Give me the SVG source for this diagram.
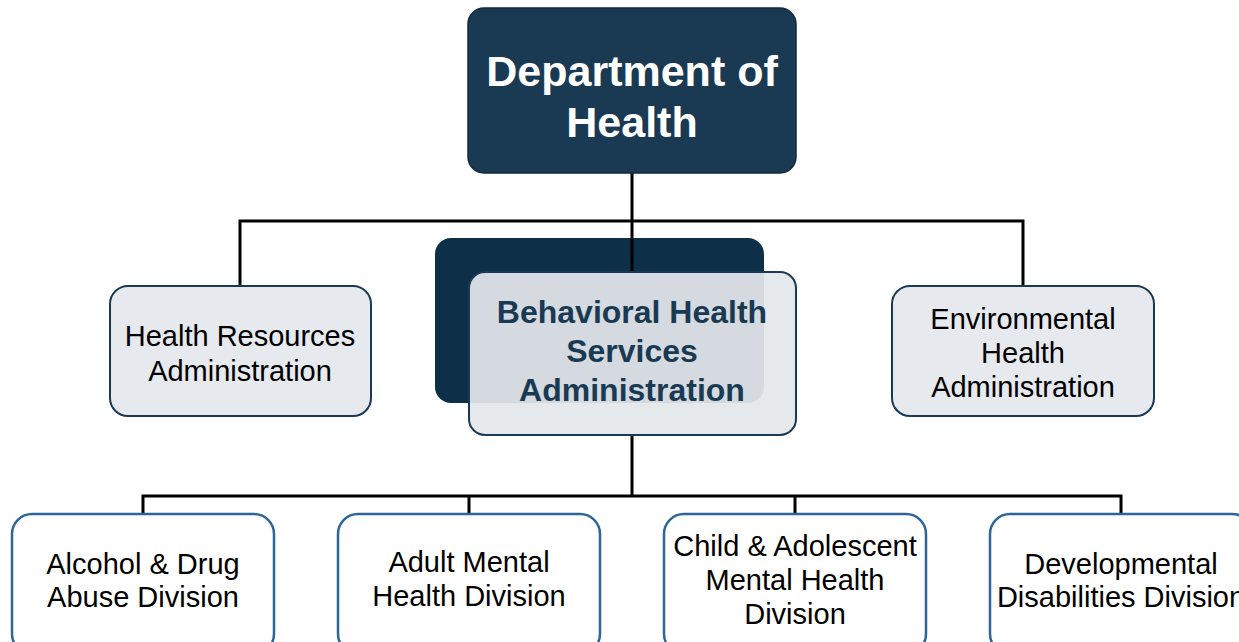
<svg xmlns="http://www.w3.org/2000/svg" width="1239" height="642" viewBox="0 0 1239 642">
<style>
.conn{stroke:#000;stroke-width:3;fill:none}
.mid{fill:#e6e9ed;stroke:#1a3a54;stroke-width:2}
.div{fill:#fff;stroke:#2e6699;stroke-width:2.5}
.reg{font-family:"Liberation Sans",Arial,sans-serif;font-size:29px;fill:#000;text-anchor:middle}
.top{font-family:"Liberation Sans",Arial,sans-serif;font-size:43px;font-weight:bold;fill:#fff;text-anchor:middle}
.bhs{font-family:"Liberation Sans",Arial,sans-serif;font-size:32px;font-weight:bold;fill:#1a3a54;text-anchor:middle}
</style>
<rect width="1239" height="642" fill="#fff"/>
<g id="connectors">
<path class="conn" d="M632 173V272M240 286V221H1023V286"/>
<path class="conn" d="M632 435V496M143 514V496H1121V514M469 496V514M795 496V514"/>
</g>
<g id="dept">
<rect x="468" y="8" width="328" height="165" rx="16" fill="#1a3a54" stroke="#0f2a40" stroke-width="1.5"/>
<text class="top" x="632" y="86">Department of</text>
<text class="top" x="632" y="137">Health</text>
</g>
<g id="bhsa">
<rect x="435" y="238" width="329" height="165" rx="16" fill="#0e2f48"/>
<path class="conn" d="M632 238V272"/>
<rect x="469" y="272" width="327" height="163" rx="16" fill="#e3e7eb" fill-opacity="0.93" stroke="#1a3a54" stroke-width="2"/>
<text class="bhs" x="632" y="323">Behavioral Health</text>
<text class="bhs" x="632" y="362">Services</text>
<text class="bhs" x="632" y="401">Administration</text>
</g>
<g id="hra">
<rect class="mid" x="110" y="286" width="261" height="130" rx="18"/>
<text class="reg" x="240" y="346">Health Resources</text>
<text class="reg" x="240" y="381">Administration</text>
</g>
<g id="eha">
<rect class="mid" x="892" y="286" width="262" height="130" rx="18"/>
<text class="reg" x="1023" y="329">Environmental</text>
<text class="reg" x="1023" y="363">Health</text>
<text class="reg" x="1023" y="397">Administration</text>
</g>
<g id="adad">
<rect class="div" x="12" y="514" width="262" height="140" rx="20"/>
<text class="reg" x="143" y="574">Alcohol &amp; Drug</text>
<text class="reg" x="143" y="607">Abuse Division</text>
</g>
<g id="amhd">
<rect class="div" x="338" y="514" width="262" height="140" rx="20"/>
<text class="reg" x="469" y="572">Adult Mental</text>
<text class="reg" x="469" y="606">Health Division</text>
</g>
<g id="camhd">
<rect class="div" x="664" y="514" width="262" height="140" rx="20"/>
<text class="reg" x="795" y="556">Child &amp; Adolescent</text>
<text class="reg" x="795" y="590">Mental Health</text>
<text class="reg" x="795" y="624">Division</text>
</g>
<g id="ddd">
<rect class="div" x="990" y="514" width="262" height="140" rx="20"/>
<text class="reg" x="1121" y="574">Developmental</text>
<text class="reg" x="1121" y="607">Disabilities Division</text>
</g>
</svg>
